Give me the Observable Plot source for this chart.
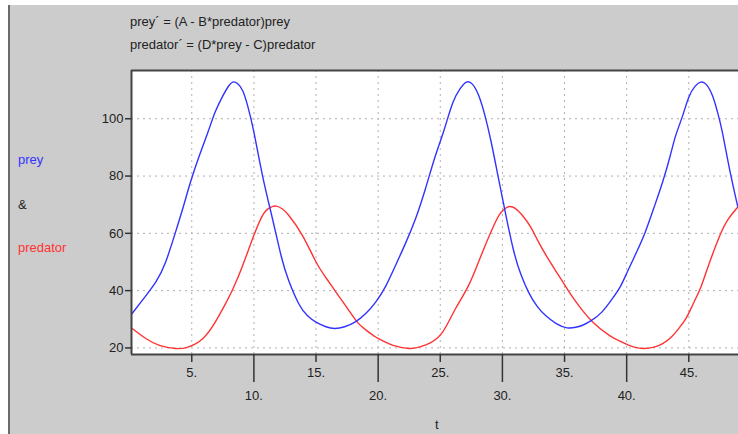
<!DOCTYPE html>
<html>
<head>
<meta charset="utf-8">
<script src="https://cdn.jsdelivr.net/npm/d3@7"></script>
<script src="https://cdn.jsdelivr.net/npm/@observablehq/plot@0.6"></script>
<style>
  html, body { margin: 0; padding: 0; background: white; }
  #wrap { position: relative; width: 738px; height: 434px; overflow: hidden; font-family: "Liberation Sans", Arial, sans-serif; }
  #panel { position: absolute; left: 8px; top: 5px; width: 730px; height: 429px; background: #cccccc; border-left: 2px solid #6a6a6a; box-sizing: border-box; }
  #chart { position: absolute; left: 0; top: 0; }
  .lbl { position: absolute; font-size: 13px; white-space: nowrap; color: #222; line-height: 16px; }
</style>
</head>
<body>
<div id="wrap">
  <div id="panel"></div>
  <div id="chart"></div>
  <div class="lbl" style="left:130px;top:14px;">prey´ = (A - B*predator)prey</div>
  <div class="lbl" style="left:130px;top:37px;">predator´ = (D*prey - C)predator</div>
  <div class="lbl" style="left:18px;top:152px;color:#3333ff;">prey</div>
  <div class="lbl" style="left:18px;top:197px;">&amp;</div>
  <div class="lbl" style="left:18px;top:240px;color:#ff3333;">predator</div>
  <div class="lbl" style="left:435px;top:417px;">t</div>
</div>
<script>
const preyT = [0.2,1,2.1,2.9,3.7,4.3,4.9,5.6,6.3,6.9,7.5,7.9,8.3,8.7,9.1,9.5,10,10.7,11.5,12.2,12.8,13.6,14.3,15,15.8,16.5,17.3,18.2,19,19.8,20.6,21.4,22.2,23,23.8,24.6,25.3,26,26.6,27.1,27.6,28.1,28.6,29.1,29.6,30.2,30.9,31.5,32.1,32.8,33.5,34.3,35.2,35.9,36.5,37.2,38,38.85,39.5,40.05,40.8,41.5,42.2,42.9,43.5,43.95,44.5,45,45.5,45.95,46.4,46.9,47.3,47.7,48.3,48.95];
const preyV = [32,36.5,43,50,60.5,69,77.9,87,95.3,102.5,108,111,112.8,112.2,109.8,104.5,95.3,80,65,52,43.5,35.5,31.3,29,27.4,26.8,27.4,29.2,32,36,41.5,48.8,56.5,65,75.5,87,96,105.5,110.5,112.8,112,108,101,91.8,81,68,54,45.5,39.5,34.5,31.2,28.6,27,27.2,28,29.7,32.5,37.2,41.5,46.5,53.5,60.5,69,78,87,94.2,101,107.5,111.3,112.8,112,108.1,102.5,95.3,82,69.2];
const predT = [0.2,1.3,2.4,3.7,4.7,5.9,6.9,7.6,8.3,9.1,9.9,10.7,11.3,11.8,12.3,12.8,13.9,15,15.8,16.6,17.5,18.3,19,19.8,20.5,21.2,22.5,23.3,24.2,25.2,26.2,27.3,28.4,29.5,30,30.5,31,31.6,32.3,32.9,33.7,34.5,35.3,36.1,37.2,38.6,39.9,40.6,41.4,42.2,42.9,43.6,44.2,44.8,45.3,45.9,46.4,47.4,48.2,48.95];
const predV = [26.8,23.3,20.9,19.8,20.3,23.3,29.1,34.5,40.5,48.8,58.2,66.3,69,69.5,68.5,66.3,59.3,50,44.5,39.5,34,29.1,26.3,23.8,22.2,20.9,19.8,20.3,21.8,25.6,33.5,42,53.5,64.5,67.8,69.3,68.8,66.3,62,57,51,45.5,40,35,29.3,24.4,21.5,20.3,19.8,20.3,21.5,23.8,26.8,30.5,34.9,40.5,46.5,58.2,65.1,69.2];
const yTicks = [20,40,60,80,100];
const xTicksShort = [5,15,25,35,45];
const xTicksLong = [10,20,30,40];

const prey = preyT.map((t,i) => ({t, v: preyV[i]}));
const pred = predT.map((t,i) => ({t, v: predV[i]}));
const xDom = [0.15, 49.0];
const yDom = [17.7, 116.85];

const chart = Plot.plot({
  width: 738,
  height: 434,
  marginLeft: 131,
  marginRight: 0,
  marginTop: 70,
  marginBottom: 80,
  style: {background: "transparent", fontFamily: "Liberation Sans, Arial, sans-serif", fontSize: "13px", color: "#222"},
  x: {domain: xDom, axis: null},
  y: {domain: yDom, axis: null},
  marks: [
    Plot.frame({fill: "white", stroke: "none"}),
    Plot.gridX([...xTicksShort, ...xTicksLong], {stroke: "#b0b0b0", strokeOpacity: 1, strokeDasharray: "2,4"}),
    Plot.gridY(yTicks, {stroke: "#b0b0b0", strokeOpacity: 1, strokeDasharray: "2,4"}),
    Plot.line(pred, {x: "t", y: "v", stroke: "#ff3333", strokeWidth: 1.4, curve: "natural"}),
    Plot.line(prey, {x: "t", y: "v", stroke: "#3333ff", strokeWidth: 1.4, curve: "natural"}),
    Plot.ruleX([xDom[0]], {stroke: "#444", strokeWidth: 2}),
    Plot.ruleY([yDom[0], yDom[1]], {stroke: "#444", strokeWidth: 2}),
    Plot.axisY({ticks: yTicks, tickSize: 6, tickPadding: 2, stroke: "#333", strokeWidth: 1.5, fill: "#222", label: null, fontSize: 13}),
    Plot.axisX({ticks: xTicksShort, tickSize: 8, tickPadding: 5, stroke: "#333", strokeWidth: 1.5, fill: "#222", label: null, tickFormat: d => d + ".", fontSize: 13}),
    Plot.axisX({ticks: xTicksLong, tickSize: 28, tickPadding: 8, stroke: "#333", strokeWidth: 1.5, fill: "#222", label: null, tickFormat: d => d + ".", fontSize: 13})
  ]
});
document.getElementById("chart").appendChild(chart);
</script>
</body>
</html>
